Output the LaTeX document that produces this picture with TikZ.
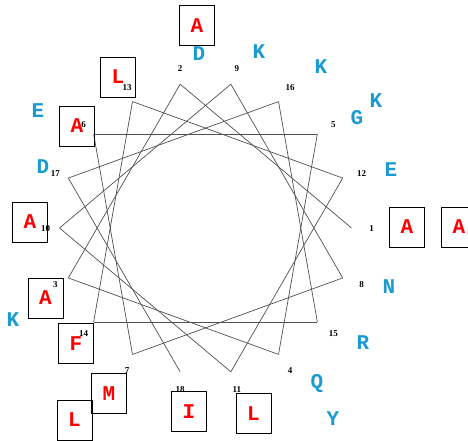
\documentclass[tikz,border=0pt]{standalone}
\usepackage{fontspec}
\setmainfont{Liberation Serif}
\newfontfamily\resfont{Liberation Mono}
\usetikzlibrary{positioning}
\definecolor{resred}{HTML}{FF0000}
\definecolor{resblue}{HTML}{1A9BD0}
\definecolor{wheelgray}{HTML}{505050}

\begin{document}
\begin{tikzpicture}[x=1pt, y=-1pt,
    hydrophobic/.style={draw=black, line width=0.9pt, minimum width=35pt, minimum height=40pt,
          inner sep=0pt, text=resred, font=\resfont\bfseries\fontsize{21}{21}\selectfont},
    polar/.style={inner sep=0pt, text=resblue, font=\resfont\bfseries\fontsize{21}{21}\selectfont},
    resnum/.style={inner sep=0pt, font=\bfseries\fontsize{9}{9}\selectfont},
    wheel/.style={draw=wheelgray, line width=0.7pt}]
  \useasboundingbox (0,0) rectangle (468,441);
  \coordinate (c) at (205.5,228);
  % wheel positions, 100 degrees per residue
  \foreach \i in {1,...,18} {
    \path (c) ++({-(\i-1)*100}:146) coordinate (p\i);
    \path (c) ++({-(\i-1)*100}:163) node[resnum, xshift=3pt, yshift=-1pt] (n\i) {\i};
  }
  \foreach \i [evaluate=\i as \j using int(\i+1)] in {1,...,17}
    \draw[wheel] (p\i) -- (p\j);

  % hydrophobic residues
  \node[hydrophobic] (rA1) at (407,227) {A};
  \node[hydrophobic] (rA2) at (459,227) {A};
  \node[hydrophobic] (rA3) at (197,25.5) {A};
  \node[hydrophobic] (rL1) at (118,77) {L};
  \node[hydrophobic] (rA4) at (77,126) {A};
  \node[hydrophobic] (rA5) at (30,222) {A};
  \node[hydrophobic] (rA6) at (45.5,298) {A};
  \node[hydrophobic] (rF) at (76,343.5) {F};
  \node[hydrophobic] (rM) at (109,393.5) {M};
  \node[hydrophobic] (rL2) at (74.5,420) {L};
  \node[hydrophobic] (rI) at (189,411.5) {I};
  \node[hydrophobic] (rL3) at (253.5,413.5) {L};

  % polar residues
  \node[polar] (rD1) at (199,54) {D};
  \node[polar] (rE1) at (38,111) {E};
  \node[polar] (rD2) at (43,167) {D};
  \node[polar] (rK1) at (13,320) {K};
  \node[polar] (rY) at (333,419) {Y};
  \node[polar] (rQ) at (317,384) {Q};
  \node[polar] (rR) at (363,343) {R};
  \node[polar] (rN) at (389,287) {N};
  \node[polar] (rE2) at (391,170) {E};
  \node[polar] (rG) at (357,118) {G};
  \node[polar] (rK2) at (376,101) {K};
  \node[polar] (rK3) at (321,67) {K};
  \node[polar] (rK4) at (259,52) {K};
\end{tikzpicture}
\end{document}
